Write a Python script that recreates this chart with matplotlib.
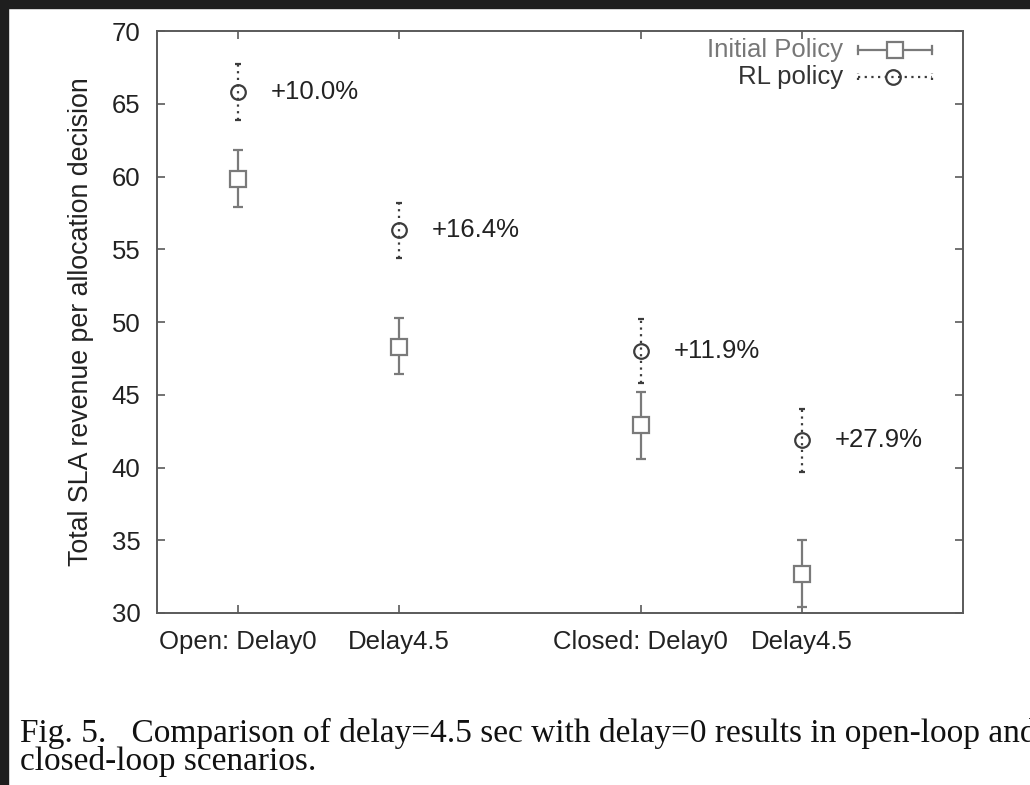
import matplotlib
matplotlib.use("Agg")
import matplotlib.pyplot as plt
from matplotlib.patches import Rectangle

# ---- data ----
categories = ["Open: Delay0", "Delay4.5", "Closed: Delay0", "Delay4.5"]
positions = [1, 2, 3.5, 4.5]
initial_mean = [59.8, 48.3, 42.9, 32.7]
initial_low = [57.9, 46.4, 40.6, 30.4]
initial_high = [61.8, 50.3, 45.2, 35.0]
rl_mean = [65.8, 56.3, 48.0, 41.9]
rl_low = [63.9, 54.4, 45.8, 39.7]
rl_high = [67.7, 58.2, 50.2, 44.0]
gains = ["+10.0%", "+16.4%", "+11.9%", "+27.9%"]
y_ticks = [30, 35, 40, 45, 50, 55, 60, 65, 70]

SANS = ["Liberation Sans", "DejaVu Sans"]
SERIF = ["Liberation Serif", "DejaVu Serif"]
plt.rcParams["font.family"] = SANS

c_init = "#7a7a7a"
c_rl = "#3c3c3c"
c_spine = "#5a5a5a"
FS = 18.5

fig = plt.figure(figsize=(10.3, 7.85), dpi=100)
fig.patch.set_facecolor("white")
# dark frame on left and top edges
fig.patches.append(Rectangle((0, 0), 8 / 1030, 1, transform=fig.transFigure,
                             color="#1e1e1e", zorder=0))
fig.patches.append(Rectangle((0, 1 - 8 / 785), 1, 8 / 785, transform=fig.transFigure,
                             color="#1e1e1e", zorder=0))

ax = fig.add_axes([157 / 1030, 1 - 613 / 785, 806 / 1030, 582 / 785])
ax.set_xlim(0.5, 5.5)
ax.set_ylim(30, 70)

# Initial policy
err_i = [[m - l for m, l in zip(initial_mean, initial_low)],
         [h - m for m, h in zip(initial_mean, initial_high)]]
ax.errorbar(positions, initial_mean, yerr=err_i, fmt="s", ms=12, mfc="white",
            mec=c_init, mew=1.6, ecolor=c_init, elinewidth=1.6, capsize=3.8,
            capthick=1.6, zorder=3)

# RL policy
err_r = [[m - l for m, l in zip(rl_mean, rl_low)],
         [h - m for m, h in zip(rl_mean, rl_high)]]
eb = ax.errorbar(positions, rl_mean, yerr=err_r, fmt="o", ms=10.5, mfc="none",
                 mec=c_rl, mew=1.6, ecolor=c_rl, elinewidth=1.6, capsize=2.0,
                 capthick=1.6, zorder=3)
for lc in eb[2]:
    lc.set_linestyle((0, (1, 2)))

for x, y, g in zip(positions, rl_mean, gains):
    ax.annotate(g, xy=(x, y), xytext=(24, 0), textcoords="offset points",
                va="center", ha="left", fontsize=FS, color="#222222")

ax.set_xticks(positions)
ax.set_xticklabels(categories)
ax.set_yticks(y_ticks)
ax.tick_params(axis="both", direction="in", length=6, width=1.2, color=c_spine,
               labelsize=FS, labelcolor="#222222", top=True, right=True)
ax.tick_params(axis="y", pad=12)
ax.tick_params(axis="x", pad=12)
for s in ax.spines.values():
    s.set_color(c_spine)
    s.set_linewidth(1.4)
ax.set_ylabel("Total SLA revenue per allocation decision", fontsize=19.3,
              color="#222222", labelpad=13)

# legend (gnuplot style)
tr = ax.transAxes
ax.text(0.851, 0.967, "Initial Policy", transform=tr, ha="right", va="center",
        fontsize=FS, color="#777777")
ax.text(0.851, 0.921, "RL policy", transform=tr, ha="right", va="center",
        fontsize=FS, color="#333333")
ax.plot([0.870, 0.9615], [0.967, 0.967], transform=tr, color=c_init, lw=1.6,
        clip_on=False)
ax.plot([0.870, 0.870], [0.960, 0.974], transform=tr, color=c_init, lw=1.6,
        clip_on=False)
ax.plot([0.9615, 0.9615], [0.960, 0.974], transform=tr, color=c_init, lw=1.6,
        clip_on=False)
ax.plot([0.9156], [0.967], transform=tr, marker="s", ms=12, mfc="white",
        mec=c_init, mew=1.6, clip_on=False)
ax.plot([0.870, 0.9615], [0.921, 0.921], transform=tr, color=c_rl, lw=1.6,
        ls=(0, (1, 2)), clip_on=False)
ax.plot([0.870, 0.870], [0.915, 0.927], transform=tr, color=c_rl, lw=1.6,
        ls=(0, (1, 2)), clip_on=False)
ax.plot([0.9615, 0.9615], [0.915, 0.927], transform=tr, color=c_rl, lw=1.6,
        ls=(0, (1, 2)), clip_on=False)
ax.plot([0.9135], [0.921], transform=tr, marker="o", ms=10.5, mfc="none",
        mec=c_rl, mew=1.6, clip_on=False)

# caption
fig.text(20 / 1030, 1 - 742 / 785,
         "Fig. 5.   Comparison of delay=4.5 sec with delay=0 results in open-loop and",
         family=SERIF, fontsize=24, color="#111111", va="baseline", ha="left")
fig.text(20 / 1030, 1 - 770 / 785, "closed-loop scenarios.",
         family=SERIF, fontsize=24, color="#111111", va="baseline", ha="left")

fig.savefig("out.png", dpi=100)
